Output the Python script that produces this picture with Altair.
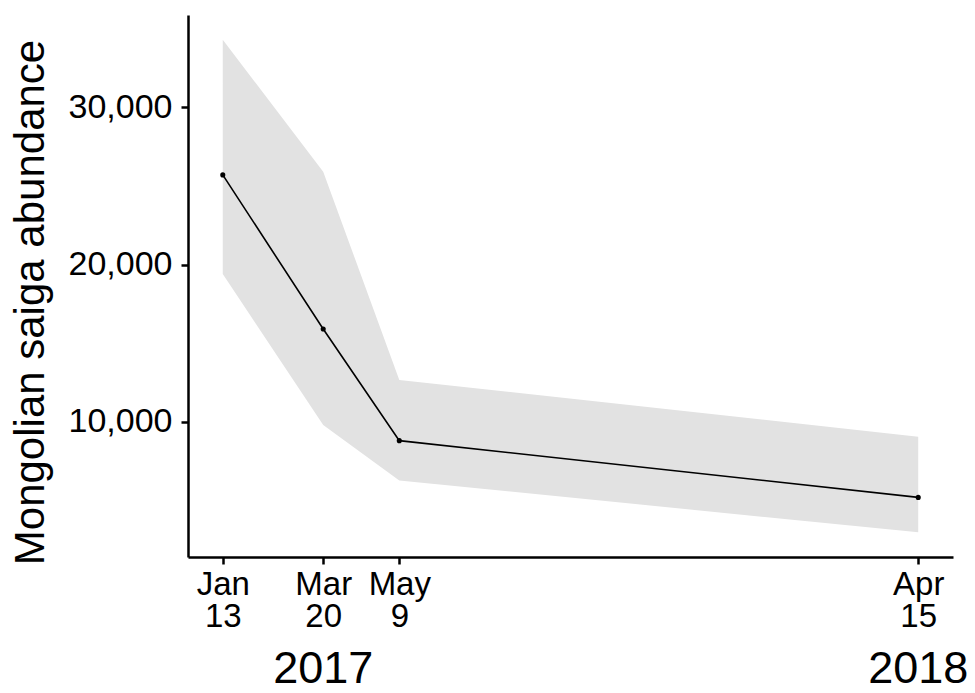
import altair as alt
import pandas as pd

# Survey dates and estimates
dates = ["2017-01-13T00:00:00", "2017-03-20T00:00:00", "2017-05-09T00:00:00", "2018-04-15T00:00:00"]
abundance = [25700, 15900, 8800, 5190]
lower = [19400, 9800, 6270, 2970]
upper = [34300, 25900, 12660, 9050]

year_dates = ["2017-03-20T00:00:00", "2018-04-15T00:00:00"]
year_labels = ["2017", "2018"]

df = pd.DataFrame({"date": dates, "abundance": abundance, "lower": lower, "upper": upper})
years = pd.DataFrame({"date": year_dates, "label": year_labels})

FONT = "Liberation Sans"
W, H = 765, 542

x_scale = alt.Scale(domain=[alt.DateTime(year=2016, month=12, date=21, hours=3, minutes=36),
                            alt.DateTime(year=2018, month=5, date=7, hours=20, minutes=24)])
y_scale = alt.Scale(domain=[1400, 35870], nice=False, zero=False)

x_axis = alt.Axis(
    values=[alt.DateTime(year=2017, month=1, date=13), alt.DateTime(year=2017, month=3, date=20),
            alt.DateTime(year=2017, month=5, date=9), alt.DateTime(year=2018, month=4, date=15)],
    labelExpr="[timeFormat(datum.value, '%b'), timeFormat(datum.value, '%-d')]",
    title=None, grid=False, domainColor="black", domainWidth=2.5, tickColor="black",
    tickWidth=2.5, tickSize=7, labelFont=FONT, labelFontSize=33, labelColor="black",
    labelLineHeight=32, labelPadding=4, labelBaseline="top", labelFlush=False, labelOverlap=False,
)
y_axis = alt.Axis(
    values=[10000, 20000, 30000], labelExpr="format(datum.value, ',.0f')",
    title="Mongolian saiga abundance",
    grid=False, domainColor="black", domainWidth=2.5, tickColor="black", tickWidth=2.5,
    tickSize=7, labelFont=FONT, labelFontSize=34, labelColor="black", labelPadding=9,
    titleFont=FONT, titleFontSize=42, titleFontWeight="normal", titleColor="black",
    titleX=-145, titleY=287, titleAlign="center", titleBaseline="alphabetic", titleAngle=-90,
)

base = alt.Chart(df)

band = base.mark_area(color="#e2e2e2", opacity=1).encode(
    x=alt.X("date:T", scale=x_scale, axis=x_axis),
    y=alt.Y("lower:Q", scale=y_scale, axis=y_axis),
    y2="upper:Q",
)
line = base.mark_line(color="black", strokeWidth=1.6).encode(
    x="date:T", y="abundance:Q"
)
pts = base.mark_circle(color="black", opacity=1, size=26).encode(
    x="date:T", y="abundance:Q"
)
yr = alt.Chart(years).mark_text(font=FONT, fontSize=45, color="black", baseline="alphabetic",
                                align="center").encode(
    x="date:T", y=alt.value(H + 126), text="label:N"
)

chart = alt.layer(band, line, pts, yr).properties(
    width=W, height=H,
    autosize=alt.AutoSizeParams(type="none"),
    padding={"left": 180, "top": 7, "right": 14, "bottom": 128},
).configure_view(stroke=None)

chart.save("out.html", embed_options={"renderer": "svg", "actions": False})
